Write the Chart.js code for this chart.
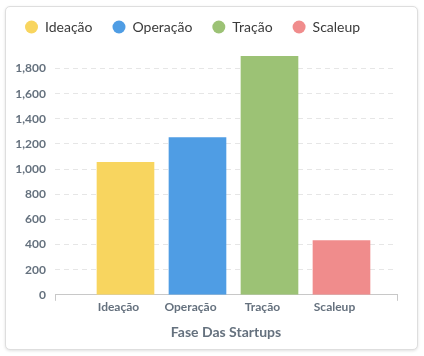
<!DOCTYPE html>
<html>
<head>
<meta charset="utf-8">
<script src="https://cdn.jsdelivr.net/npm/chart.js@4"></script>
<style>
html,body{margin:0;padding:0;background:#fff;width:424px;height:356px;overflow:hidden;}
#card{position:absolute;left:5px;top:6px;width:413px;height:344px;box-sizing:border-box;border:1px solid #dedede;border-radius:5px;box-shadow:0 1px 3px rgba(0,0,0,0.12);background:#fff;}
#wrap{position:absolute;left:0;top:0;width:424px;height:356px;}
</style>
</head>
<body>
<div id="card"></div>
<div id="wrap"><canvas id="c" width="424" height="356"></canvas></div>
<script>
const categories = ['Ideação', 'Operação', 'Tração', 'Scaleup'];
const values = [1053, 1250, 1900, 432];
const colors = ['#f8d55f', '#4f9de4', '#9cc275', '#f08c8c'];
const axisTitle = 'Fase Das Startups';

const labelColor = '#65717e';

const legendTweak = {
  id: 'legendTweak',
  afterInit(chart) {
    const lg = chart.legend;
    if (lg) {
      const fit = lg.fit;
      lg.fit = function () { fit.call(this); this.height += 12; };
    }
  }
};

new Chart(document.getElementById('c'), {
  type: 'bar',
  data: {
    datasets: [{
      data: categories.map((c, i) => ({ x: i, y: values[i] })),
      backgroundColor: colors,
      borderWidth: 0,
      barThickness: 57
    }]
  },
  plugins: [legendTweak],
  options: {
    responsive: false,
    animation: false,
    layout: { padding: { left: 5, right: 27, top: 0, bottom: 11 } },
    plugins: {
      tooltip: { enabled: false },
      legend: {
        display: true,
        position: 'top',
        align: 'start',
        labels: {
          usePointStyle: true,
          pointStyle: 'circle',
          pointStyleWidth: 13,
          boxHeight: 9.2,
          padding: 20,
          color: '#3a3a3a',
          font: { family: 'Lato', size: 14 },
          generateLabels: () => categories.map((c, i) => ({
            text: c,
            fillStyle: colors[i],
            strokeStyle: colors[i],
            lineWidth: 0,
            pointStyle: 'circle',
            hidden: false,
            index: i,
            fontColor: '#3a3a3a'
          }))
        }
      }
    },
    scales: {
      x: {
        type: 'linear',
        offset: false,
        min: -0.979,
        max: 3.771,
        afterBuildTicks: (scale) => {
          const t = [{ value: scale.min }];
          categories.forEach((c, i) => t.push({ value: i }));
          t.push({ value: scale.max });
          scale.ticks = t;
        },
        ticks: {
          autoSkip: false,
          maxRotation: 0,
          labelOffset: -7,
          padding: -1,
          color: labelColor,
          font: { family: 'Lato', size: 12, weight: 'bold' },
          callback: (v) => Number.isInteger(v) && categories[v] !== undefined ? categories[v] : ''
        },
        grid: {
          display: true,
          offset: false,
          drawOnChartArea: false,
          tickLength: 6,
          color: (ctx) => (ctx.index === 0 || ctx.index === categories.length + 1) ? '#c8c8c8' : 'rgba(0,0,0,0)'
        },
        border: { display: true, color: '#c8c8c8', width: 1 },
        title: {
          display: true,
          text: axisTitle,
          color: labelColor,
          font: { family: 'Lato', size: 14, weight: 'bold' },
          padding: { top: 11, bottom: 4 }
        }
      },
      y: {
        min: 0,
        max: Math.max(...values),
        afterFit: (scale) => { scale.width = 50; },
        ticks: {
          stepSize: 200,
          includeBounds: false,
          padding: 9,
          color: labelColor,
          font: { family: 'Lato', size: 12, weight: 'bold' }
        },
        grid: {
          drawTicks: false,
          color: '#e6e6e6',
          lineWidth: 1
        },
        border: { display: false, dash: [5, 4] }
      }
    }
  }
});
</script>
</body>
</html>
